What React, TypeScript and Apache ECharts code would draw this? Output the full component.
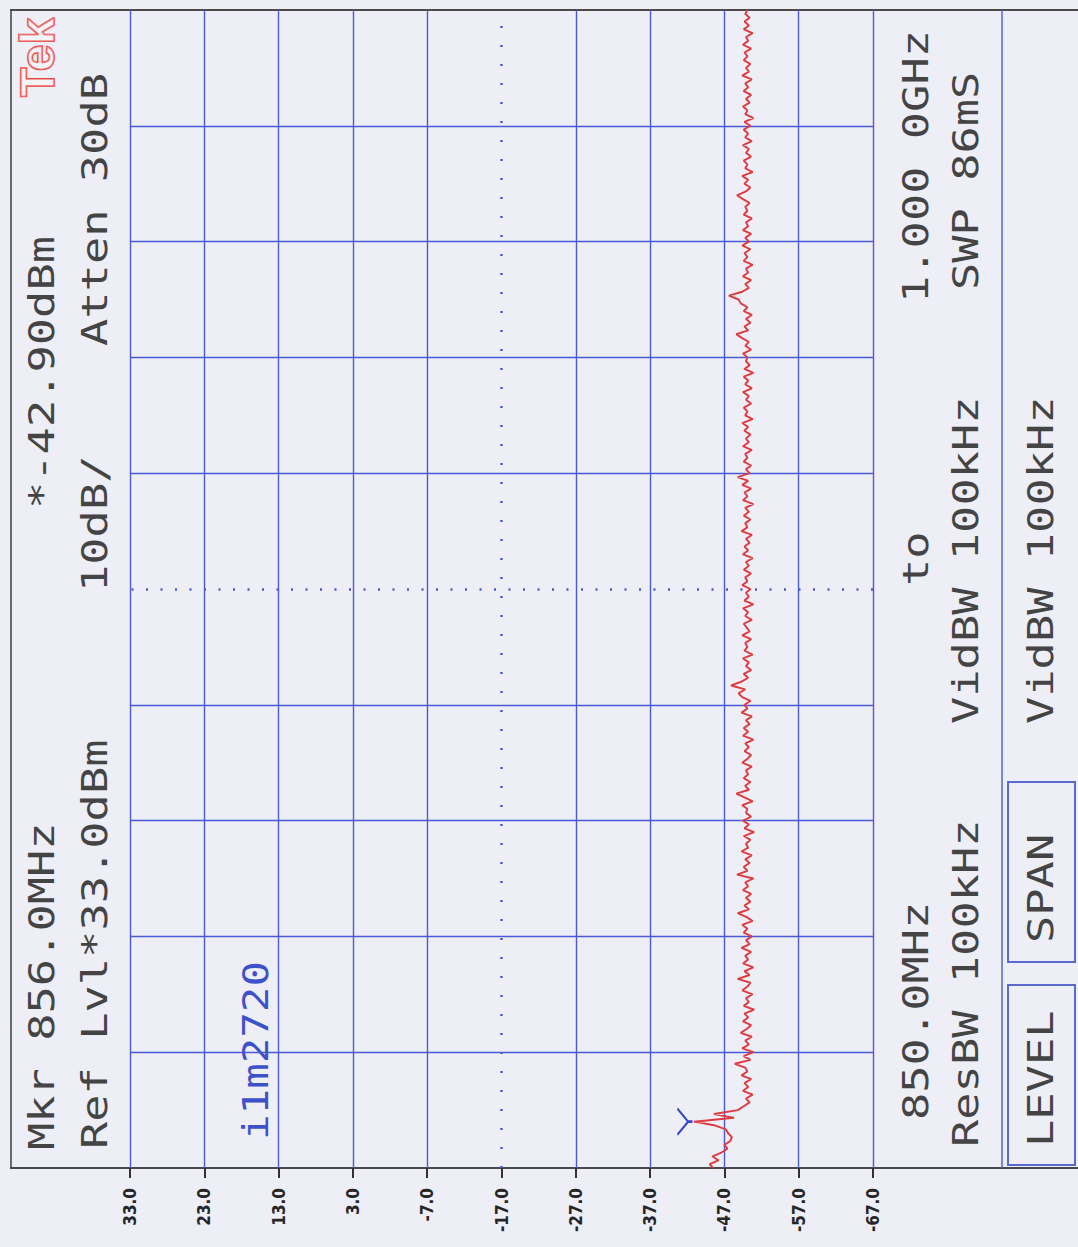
import React, { useEffect, useRef } from "react";
import * as echarts from "echarts";

// ---- data ----
const START_MHZ = 850;
const STOP_MHZ = 1000;
const DB_TICKS = [33, 23, 13, 3, -7, -17, -27, -37, -47, -57, -67];
const FREQ_GRID_MHZ = [865, 880, 895, 910, 925, 940, 955, 970, 985];
const CENTER_DB = -17;
const CENTER_MHZ = 925;
// trace readings (dBm), 850 MHz -> 1000 MHz, 0.5 MHz per point
const TRACE_DBM = [
  -45.5, -45.0, -46.2, -45.4, -46.6, -47.4, -47.0, -47.8, -48.0, -47.5,
  -47.2, -45.8, -42.9, -48.3, -45.6, -48.8, -49.6, -50.4, -49.9, -50.8,
  -49.5, -50.2, -49.7, -50.6, -49.3, -50.1, -49.8, -48.4, -50.5, -49.6,
  -50.9, -49.4, -50.3, -49.8, -50.7, -49.2, -50.0, -50.6, -49.5, -50.2,
  -49.7, -51.0, -49.6, -50.3, -49.9, -50.8, -49.4, -50.1, -50.5, -48.8,
  -50.4, -49.7, -50.9, -49.5, -50.2, -49.8, -50.6, -49.3, -50.4, -49.9,
  -50.7, -49.6, -50.1, -49.4, -50.8, -50.0, -48.8, -50.3, -49.7, -50.5,
  -49.9, -50.6, -49.5, -50.2, -49.8, -50.9, -48.7, -50.1, -49.6, -50.4,
  -49.8, -50.7, -49.3, -50.2, -49.9, -50.5, -49.6, -51.0, -49.7, -50.3,
  -49.5, -50.6, -49.9, -50.1, -49.4, -50.8, -49.7, -48.6, -50.3, -49.8,
  -50.5, -49.6, -50.2, -49.9, -50.7, -49.4, -50.1, -50.6, -49.7, -50.3,
  -49.8, -50.9, -49.5, -50.2, -49.6, -50.4, -49.9, -50.7, -49.3, -50.1,
  -49.7, -50.5, -49.4, -48.9, -49.8, -47.9, -49.3, -50.2, -49.6, -50.6,
  -49.9, -50.3, -49.5, -50.8, -49.7, -50.1, -49.8, -50.6, -49.4, -50.4,
  -50.0, -49.6, -50.7, -49.8, -50.2, -49.5, -50.9, -49.7, -50.3, -49.9,
  -50.5, -49.4, -50.1, -49.8, -50.6, -49.6, -50.3, -49.9, -50.8, -49.5,
  -50.2, -49.7, -50.4, -49.9, -50.7, -49.3, -50.1, -49.8, -50.5, -49.6,
  -50.3, -49.8, -50.9, -49.5, -50.1, -49.7, -50.6, -49.4, -50.2, -48.8,
  -50.4, -49.9, -50.6, -49.6, -50.1, -49.8, -50.7, -49.5, -50.3, -49.9,
  -50.5, -49.7, -50.2, -49.4, -50.8, -49.8, -50.1, -49.6, -50.6, -49.9,
  -50.3, -49.5, -50.7, -49.8, -50.2, -49.6, -50.9, -49.7, -50.4, -49.9,
  -50.1, -49.5, -50.6, -49.8, -50.3, -49.4, -48.6, -50.2, -49.7, -50.5,
  -49.9, -50.7, -49.6, -50.1, -49.2, -48.9, -47.6, -49.4, -50.3, -49.8,
  -50.6, -49.5, -50.2, -49.9, -50.8, -49.6, -50.1, -49.7, -50.5, -49.4,
  -50.3, -49.8, -50.6, -49.5, -50.2, -49.9, -50.7, -49.6, -50.1, -49.8,
  -50.4, -49.5, -48.7, -49.9, -50.5, -49.7, -50.2, -49.4, -50.8, -49.8,
  -50.1, -49.6, -50.6, -49.9, -50.3, -49.5, -50.7, -49.8, -50.2, -49.6,
  -50.5, -49.7, -50.9, -49.8, -50.1, -49.5, -50.4, -49.9, -50.6, -49.6,
  -50.2, -49.8, -50.7, -49.4, -50.3, -49.9, -50.5, -49.6, -50.1, -49.7,
  -50.6, -49.5, -50.2, -49.9, -50.8, -49.6, -50.3, -49.7, -50.4, -49.8,
  -50.1,
];

const TOP_TEXTS = [
  { text: "Mkr 856.0MHz", x: 42, y: 1150 },
  { text: "*-42.90dBm", x: 42, y: 509 },
  { text: "Ref Lvl*33.0dBm", x: 95, y: 1149 },
  { text: "10dB/", x: 95, y: 592 },
  { text: "Atten 30dB", x: 95, y: 346 },
  { text: "850.0MHz", x: 916, y: 1120 },
  { text: "to", x: 916, y: 586 },
  { text: "1.000 0GHz", x: 916, y: 303 },
  { text: "ResBW 100kHz", x: 966, y: 1147 },
  { text: "VidBW 100kHz", x: 966, y: 724 },
  { text: "SWP 86mS", x: 966, y: 290 },
  { text: "LEVEL", x: 1041, y: 1147 },
  { text: "SPAN", x: 1041, y: 943 },
  { text: "VidBW 100kHz", x: 1041, y: 724 },
];

const GRID_BLUE = "#4a5ad4";
const FONT = '36px "DejaVu Sans Mono", "Liberation Mono", monospace';

export default function App() {
  const ref = useRef<HTMLDivElement>(null);
  useEffect(() => {
    if (!ref.current) return;
    const chart = echarts.init(ref.current, undefined, { renderer: "svg" });
    const step = (STOP_MHZ - START_MHZ) / (TRACE_DBM.length - 1);
    const trace = TRACE_DBM.map((v, i) => [v, START_MHZ + i * step]);
    let peak = 0;
    TRACE_DBM.forEach((v, i) => {
      if (v > TRACE_DBM[peak]) peak = i;
    });

    const vLines = DB_TICKS.map((v) => ({
      xAxis: v,
      lineStyle:
        v === CENTER_DB
          ? { color: GRID_BLUE, width: 2.5, type: [2, 17] }
          : { color: GRID_BLUE, width: 1.4, type: "solid" },
    }));
    const hLines = FREQ_GRID_MHZ.map((f) => ({
      yAxis: f,
      lineStyle:
        f === CENTER_MHZ
          ? { color: GRID_BLUE, width: 2.5, type: [2, 12.5] }
          : { color: GRID_BLUE, width: 1.4, type: "solid" },
    }));

    const texts: any[] = TOP_TEXTS.map((t) => ({
      type: "text",
      x: t.x,
      y: t.y,
      rotation: Math.PI / 2,
      scaleX: 1.26,
      style: {
        text: t.text,
        font: FONT,
        fill: "#444",
        align: "left",
        verticalAlign: "middle",
      },
    }));
    texts.push({
      type: "text",
      x: 255,
      y: 1140,
      rotation: Math.PI / 2,
      scaleX: 1.18,
      style: {
        text: "i1m2720",
        font: FONT,
        fill: "#3d52c8",
        align: "left",
        verticalAlign: "middle",
      },
    });
    texts.push({
      type: "text",
      x: 37,
      y: 97,
      rotation: Math.PI / 2,
      scaleX: 1.0,
      style: {
        text: "Tek",
        font: 'bold 48px "Liberation Sans", sans-serif',
        fill: "rgba(255,255,255,0.4)",
        stroke: "#e8473f",
        lineWidth: 1.8,
        align: "left",
        verticalAlign: "middle",
      },
    });

    const frameColor = "#4a4a4a";
    const graphic: any[] = [
      { type: "line", shape: { x1: 10, y1: 10, x2: 1078, y2: 10 }, style: { stroke: frameColor, lineWidth: 2 } },
      { type: "line", shape: { x1: 11, y1: 10, x2: 11, y2: 1168 }, style: { stroke: frameColor, lineWidth: 1.6 } },
      { type: "line", shape: { x1: 10, y1: 1168, x2: 1078, y2: 1168 }, style: { stroke: frameColor, lineWidth: 2.2 } },
      { type: "line", shape: { x1: 1002, y1: 10, x2: 1002, y2: 1168 }, style: { stroke: GRID_BLUE, lineWidth: 1.4 } },
      { type: "rect", shape: { x: 1008, y: 782, width: 67, height: 180 }, style: { fill: "none", stroke: "#5a69d0", lineWidth: 2 } },
      { type: "rect", shape: { x: 1008, y: 985, width: 67, height: 180 }, style: { fill: "none", stroke: "#5a69d0", lineWidth: 2 } },
      ...texts,
    ];

    chart.setOption({
      animation: false,
      backgroundColor: "#eeeef7",
      grid: { left: 130, right: 205, top: 10, bottom: 79 },
      xAxis: {
        type: "value",
        min: -67,
        max: 33,
        inverse: true,
        axisLine: { show: true, lineStyle: { color: frameColor, width: 2 } },
        axisTick: {
          show: true,
          customValues: DB_TICKS,
          length: 10,
          lineStyle: { color: "#333", width: 2 },
        },
        axisLabel: {
          customValues: DB_TICKS,
          rotate: 90,
          margin: 20,
          formatter: (v: number) => v.toFixed(1),
          fontSize: 17,
          fontWeight: "bold",
          fontFamily: '"DejaVu Sans Condensed", "DejaVu Sans", sans-serif',
          color: "#262626",
        },
        splitLine: { show: false },
      },
      yAxis: {
        type: "value",
        min: START_MHZ,
        max: STOP_MHZ,
        show: false,
        splitLine: { show: false },
      },
      series: [
        {
          type: "line",
          data: [],
          silent: true,
          z: 1,
          markLine: {
            silent: true,
            symbol: ["none", "none"],
            label: { show: false },
            z: 1,
            data: [...vLines, ...hLines],
          },
        },
        {
          type: "line",
          data: trace,
          z: 10,
          showSymbol: false,
          symbol: "none",
          lineStyle: { color: "#e0393e", width: 1.9 },
          markPoint: {
            silent: true,
            symbol: "path://M0,0 L10,10 L0,20 M10,10 L14,10",
            symbolSize: [15, 26],
            symbolOffset: [-9, 0],
            itemStyle: { color: "rgba(0,0,0,0)", borderColor: "#3347c9", borderWidth: 2 },
            label: { show: false },
            data: [{ coord: trace[peak] }],
          },
        },
      ],
      graphic,
    });
    return () => chart.dispose();
  }, []);
  return (
    <div
      ref={ref}
      style={{ position: "absolute", left: 0, top: 0, width: 1078, height: 1247 }}
    />
  );
}
